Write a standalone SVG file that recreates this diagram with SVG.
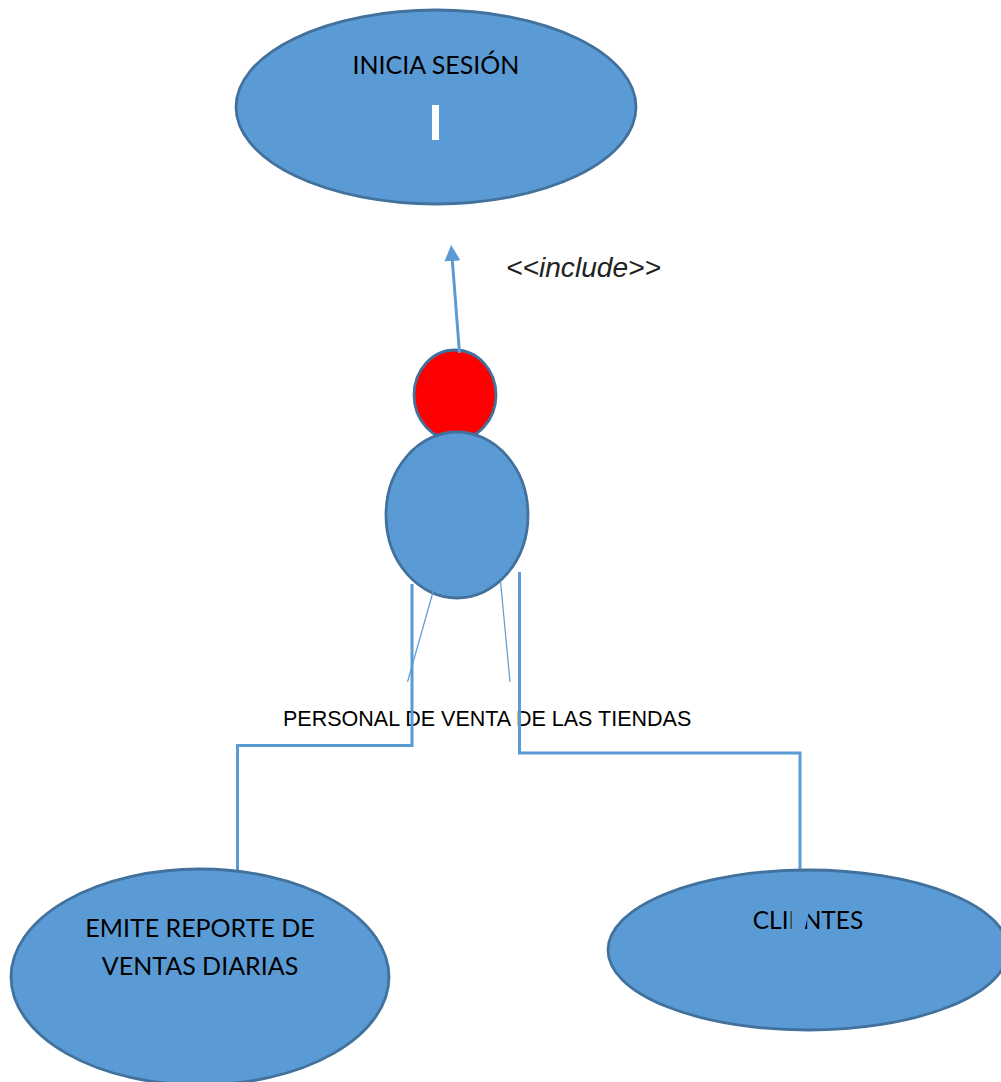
<svg xmlns="http://www.w3.org/2000/svg" width="1001" height="1082" viewBox="0 0 1001 1082">
<style>
.node{fill:#5b9bd5;stroke:#41719c;stroke-width:2.800}
.t{font-family:Lato,"Open Sans",sans-serif;font-size:25px;fill:#000;text-anchor:middle}
.w{fill:none;stroke:#5b9bd5;stroke-width:3}
.th{fill:none;stroke:#5b9bd5;stroke-width:1.200}
</style>
<defs><marker id="a" markerUnits="userSpaceOnUse" markerWidth="16" markerHeight="16" refX="1" refY="8" orient="auto"><path d="M0 0L16 8L0 16Z" fill="#5b9bd5"/></marker></defs>
<rect width="1001" height="1082" fill="#fff"/>
<g id="uc-login"><ellipse class="node" cx="436" cy="107" rx="200" ry="97"/>
<text class="t" x="436" y="74">INICIA SESIÓN</text>
<rect x="432" y="105" width="7" height="35" fill="#fff"/></g>
<g id="actor-head"><ellipse cx="455" cy="395" rx="41" ry="45" fill="#f00" stroke="#41719c" stroke-width="2.800"/></g>
<g id="actor-body"><ellipse class="node" cx="457" cy="515" rx="71" ry="83"/></g>
<g id="label-actor"><text x="283" y="726" font-family="Liberation Sans,Arial,sans-serif" font-size="21.500" fill="#000">PERSONAL DE VENTA DE LAS TIENDAS</text></g>
<g id="connectors">
<path class="w" d="M459.500 353L452.300 260" marker-end="url(#a)"/>
<path class="th" d="M433 592L407.500 682"/>
<path class="th" d="M500.500 581L510 682"/>
<path class="w" d="M412 584V745.500H237.500V871"/>
<path class="w" d="M519.500 572V753H800V870"/>
</g>
<g id="label-include"><text x="506" y="277" font-family="Liberation Sans,Arial,sans-serif" font-size="28" font-style="italic" fill="#222" textLength="155" lengthAdjust="spacingAndGlyphs">&lt;&lt;include&gt;&gt;</text></g>
<g id="uc-report"><ellipse class="node" cx="200" cy="977" rx="189" ry="108"/>
<text class="t" x="200" y="937">EMITE REPORTE DE</text>
<text class="t" x="200" y="975">VENTAS DIARIAS</text></g>
<g id="uc-clients"><ellipse class="node" cx="808" cy="950" rx="200" ry="80"/>
<text class="t" x="808" y="929" style="font-size:24.500px">CLIENTES</text>
<polygon points="791.500,908 810,908 804,932 791.500,932" fill="#5b9bd5"/></g>
</svg>
